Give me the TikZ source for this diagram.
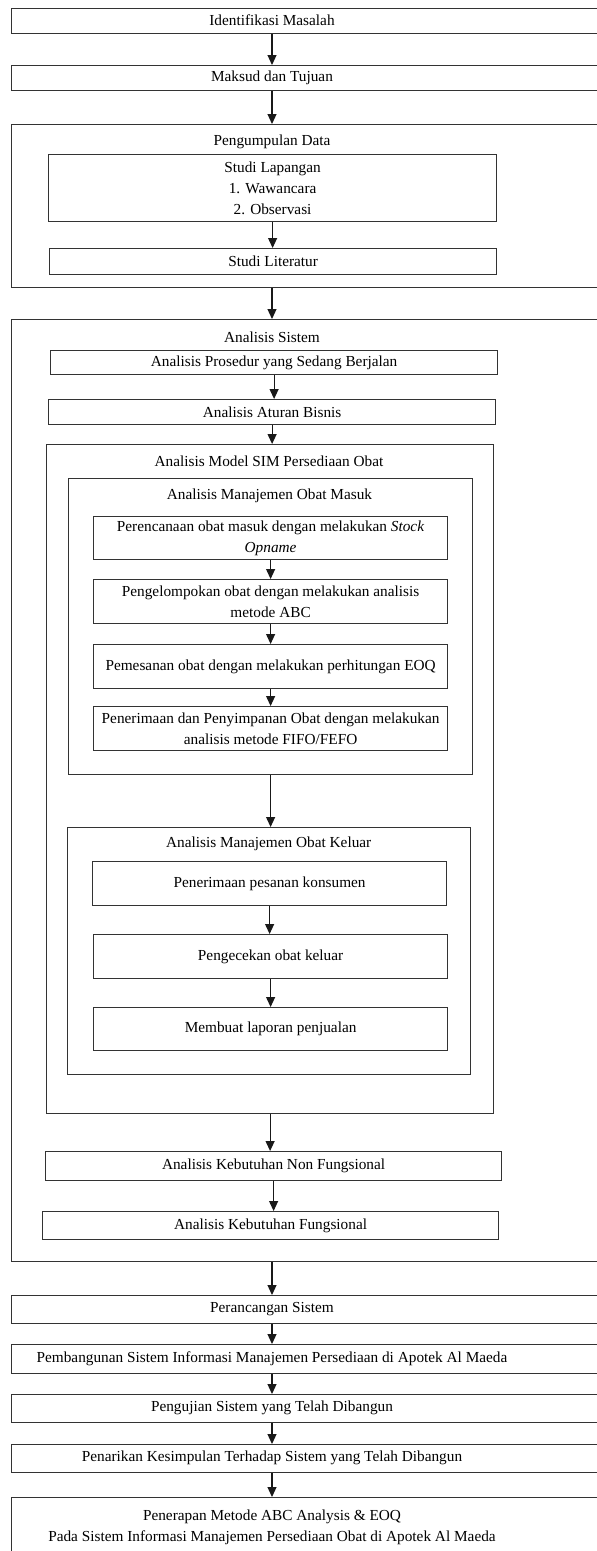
\documentclass[tikz,border=0pt]{standalone}
\usepackage{fontspec}
\setmainfont{Liberation Serif}
\usetikzlibrary{arrows.meta}
\tikzset{
  box/.style={draw=black!80, line width=1.2pt, inner sep=0pt, align=center,
    anchor=north west, font=\fontsize{15.3}{21}\selectfont},
  lbl/.style={inner sep=0pt, align=center, font=\fontsize{15.3}{21}\selectfont},
  arr/.style={draw=black!90, line width=1.1pt, -{Triangle[length=10pt,width=9pt]}}
}
\newcommand\mkbox[6]{\node[box,minimum width={#4pt-#2pt},minimum height={#5pt-#3pt}] (#1) at (#2,#3) {#6};}
\begin{document}
\begin{tikzpicture}[x=1pt,y=-1pt]
\useasboundingbox (0,0) rectangle (597,1551);
\clip (0,0) rectangle (597,1551);
\fill[white] (0,0) rectangle (597,1551);
% top boxes
\mkbox{identB}{11}{8}{620}{33}{}
\node[lbl] (identT) at (272,20.5) {Identifikasi Masalah};
\mkbox{maksudB}{11}{65}{620}{90}{}
\node[lbl] (maksudT) at (272,77.5) {Maksud dan Tujuan};
% pengumpulan data
\mkbox{pengB}{11}{124}{620}{287}{}
\node[lbl] (pengT) at (272,142) {Pengumpulan Data};
\mkbox{lapB}{48}{154}{496}{221}{Studi Lapangan\\1. Wawancara\\2. Observasi}
\mkbox{litB}{49}{248}{496}{274}{Studi Literatur}
% analisis sistem
\mkbox{sisB}{11}{319}{620}{1261}{}
\node[lbl] (sisT) at (272,337) {Analisis Sistem};
\mkbox{prosB}{50}{350}{497}{374}{Analisis Prosedur yang Sedang Berjalan}
\mkbox{aturB}{48}{399}{495}{424}{Analisis Aturan Bisnis}
\mkbox{simB}{46}{444}{493}{1113}{}
\node[lbl] (simT) at (269,461) {Analisis Model SIM Persediaan Obat};
\mkbox{masukB}{68}{478}{472}{774}{}
\node[lbl] (masukT) at (269.5,496) {Analisis Manajemen Obat Masuk};
\mkbox{a1}{93}{516}{447}{559}{Perencanaan obat masuk dengan melakukan \textit{Stock}\\\textit{Opname}}
\mkbox{a2}{93}{579}{447}{623}{Pengelompokan obat dengan melakukan analisis\\metode ABC}
\mkbox{a3}{93}{644}{447}{688}{Pemesanan obat dengan melakukan perhitungan EOQ}
\mkbox{a4}{93}{706}{447}{750}{Penerimaan dan Penyimpanan Obat dengan melakukan\\analisis metode FIFO/FEFO}
\mkbox{keluarB}{67}{827}{470}{1074}{}
\node[lbl] (keluarT) at (268.7,844) {Analisis Manajemen Obat Keluar};
\mkbox{b1}{92}{861}{446}{905}{Penerimaan pesanan konsumen}
\mkbox{b2}{93}{934}{447}{978}{Pengecekan obat keluar}
\mkbox{b3}{93}{1007}{447}{1050}{Membuat laporan penjualan}
\mkbox{nonB}{45}{1151}{501}{1180}{Analisis Kebutuhan Non Fungsional}
\mkbox{fungB}{42}{1211}{498}{1239}{Analisis Kebutuhan Fungsional}
% bottom boxes
\mkbox{rancB}{11}{1295}{620}{1323}{}
\node[lbl] (rancT) at (272,1309) {Perancangan Sistem};
\mkbox{bangunB}{11}{1344}{620}{1373}{}
\node[lbl] (bangunT) at (272,1358.5) {Pembangunan Sistem Informasi Manajemen Persediaan di Apotek Al Maeda};
\mkbox{ujiB}{11}{1394}{620}{1422}{}
\node[lbl] (ujiT) at (272,1408) {Pengujian Sistem yang Telah Dibangun};
\mkbox{tarikB}{11}{1444}{620}{1472}{}
\node[lbl] (tarikT) at (272,1458) {Penarikan Kesimpulan Terhadap Sistem yang Telah Dibangun};
\mkbox{terapB}{11}{1497}{620}{1580}{}
\node[lbl] (terapT) at (272,1527.5) {Penerapan Metode ABC Analysis \& EOQ\\Pada Sistem Informasi Manajemen Persediaan Obat di Apotek Al Maeda};
% arrows
\draw[arr] (identB.south -| identT) -- (maksudB.north -| identT);
\draw[arr] (maksudB.south -| maksudT) -- (pengB.north -| maksudT);
\draw[arr] (lapB.south) -- (lapB.south |- litB.north);
\draw[arr] (pengB.south -| pengT) -- (sisB.north -| pengT);
\draw[arr] (prosB.south) -- (prosB.south |- aturB.north);
\draw[arr] (aturB.south) -- (aturB.south |- simB.north);
\draw[arr] (a1.south) -- (a1.south |- a2.north);
\draw[arr] (a2.south) -- (a2.south |- a3.north);
\draw[arr] (a3.south) -- (a3.south |- a4.north);
\draw[arr] (masukB.south) -- (masukB.south |- keluarB.north);
\draw[arr] (b1.south) -- (b1.south |- b2.north);
\draw[arr] (b2.south) -- (b2.south |- b3.north);
\draw[arr] (simB.south) -- (simB.south |- nonB.north);
\draw[arr] (nonB.south) -- (nonB.south |- fungB.north);
\draw[arr] (sisB.south -| sisT) -- (rancB.north -| sisT);
\draw[arr] (rancB.south -| rancT) -- (bangunB.north -| rancT);
\draw[arr] (bangunB.south -| bangunT) -- (ujiB.north -| bangunT);
\draw[arr] (ujiB.south -| ujiT) -- (tarikB.north -| ujiT);
\draw[arr] (tarikB.south -| tarikT) -- (terapB.north -| tarikT);
\end{tikzpicture}
\end{document}
